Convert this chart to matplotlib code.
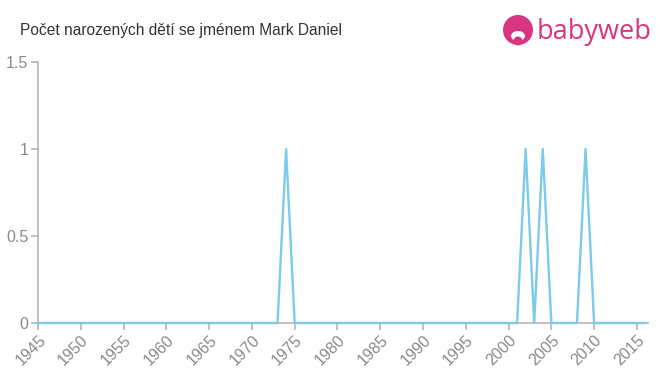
import matplotlib
matplotlib.use('Agg')
import matplotlib.pyplot as plt
from matplotlib.patches import Circle, Ellipse

# ── Data ──────────────────────────────────────────────────────────────
years = list(range(1945, 2017))
counts = [
    0, 0, 0, 0, 0,                      # 1945-1949
    0, 0, 0, 0, 0, 0, 0, 0, 0, 0,       # 1950s
    0, 0, 0, 0, 0, 0, 0, 0, 0, 0,       # 1960s
    0, 0, 0, 0, 1, 0, 0, 0, 0, 0,       # 1970s
    0, 0, 0, 0, 0, 0, 0, 0, 0, 0,       # 1980s
    0, 0, 0, 0, 0, 0, 0, 0, 0, 0,       # 1990s
    0, 0, 1, 0, 1, 0, 0, 0, 0, 1,       # 2000s
    0, 0, 0, 0, 0, 0, 0,                # 2010-2016
]
x_ticks = list(range(1945, 2020, 5))
y_ticks = [0, 0.5, 1, 1.5]
y_labels = ['0', '0.5', '1', '1.5']

title = 'Počet narozených dětí se jménem Mark Daniel'

LINE = '#7ccbea'
AXIS = '#b5b5b5'
TICKTXT = '#8a8a8a'
PINK = '#d9347f'

plt.rcParams['font.family'] = ['Liberation Sans', 'DejaVu Sans']

fig = plt.figure(figsize=(6.6, 3.75), dpi=100)
ax = fig.add_axes([38 / 660, 52 / 375, 610 / 660, 261 / 375])

ax.plot(years, counts, color=LINE, linewidth=1.7, zorder=5, clip_on=False)

ax.set_xlim(1945, 2016.3)
ax.set_ylim(0, 1.5)
ax.set_xticks(x_ticks)
ax.set_xticklabels([str(t) for t in x_ticks], rotation=45, ha='right',
                   rotation_mode='anchor')
ax.set_yticks(y_ticks)
ax.set_yticklabels(y_labels)

for s in ('top', 'right'):
    ax.spines[s].set_visible(False)
for s in ('left', 'bottom'):
    ax.spines[s].set_color(AXIS)
    ax.spines[s].set_linewidth(1.2)
ax.tick_params(axis='both', colors=AXIS, labelcolor=TICKTXT, labelsize=11.5,
               length=5, width=1.2, pad=2)

# ── Title ─────────────────────────────────────────────────────────────
fig.text(20 / 660, 1 - 30 / 375, title, fontsize=11.2, color='#333333',
         ha='left', va='center')

# ── Logo ──────────────────────────────────────────────────────────────
lax = fig.add_axes([0, 0, 1, 1], facecolor='none')
lax.set_xlim(0, 660)
lax.set_ylim(375, 0)
lax.axis('off')
lax.add_patch(Circle((518, 30), 15, facecolor=PINK, edgecolor='none'))
lax.add_patch(Ellipse((518, 36), 14, 10, facecolor='white', edgecolor='none'))
lax.add_patch(Circle((518, 41), 4.5, facecolor=PINK, edgecolor='none'))
lax.text(537, 32, 'babyweb', fontsize=19.5, color=PINK, ha='left',
         va='center', family=['Open Sans', 'DejaVu Sans'])

fig.savefig('out.png', dpi=100)
